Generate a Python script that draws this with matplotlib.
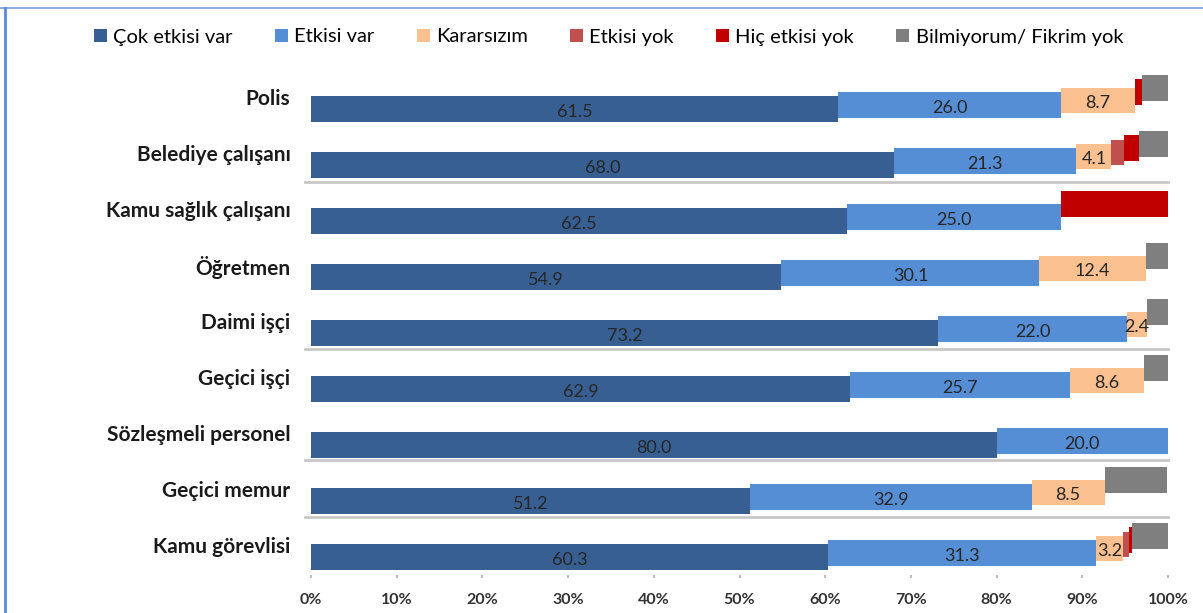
#!/usr/bin/env python3
"""Stacked horizontal bars: perceived effect by occupation group."""

import numpy as np
import matplotlib.pyplot as plt
from matplotlib.patches import Patch
from matplotlib.lines import Line2D

plt.rcParams["font.family"] = ["Lato", "DejaVu Sans"]

CATEGORIES = ["Polis", "Belediye çalışanı", "Kamu sağlık çalışanı", "Öğretmen",
              "Daimi işçi", "Geçici işçi", "Sözleşmeli personel",
              "Geçici memur", "Kamu görevlisi"]

SERIES = ["Çok etkisi var", "Etkisi var", "Kararsızım", "Etkisi yok",
          "Hiç etkisi yok", "Bilmiyorum/ Fikrim yok"]

cok_etkisi_var = [61.5, 68.0, 62.5, 54.9, 73.2, 62.9, 80.0, 51.2, 60.3]
etkisi_var     = [26.0, 21.3, 25.0, 30.1, 22.0, 25.7, 20.0, 32.9, 31.3]
kararsizim     = [8.7, 4.1, 0.0, 12.4, 2.4, 8.6, 0.0, 8.5, 3.2]
etkisi_yok     = [0.0, 1.5, 0.0, 0.0, 0.0, 0.0, 0.0, 0.0, 0.6]
hic_etkisi_yok = [0.8, 1.7, 12.5, 0.0, 0.0, 0.0, 0.0, 0.0, 0.4]
bilmiyorum     = [3.0, 3.4, 0.0, 2.6, 2.4, 2.8, 0.0, 7.3, 4.2]

COLORS = ["#375F92", "#558ED5", "#FAC090", "#C0504D", "#C00000", "#7F7F7F"]
LABELLED = [True, True, True, False, False, False]

data = [cok_etkisi_var, etkisi_var, kararsizim, etkisi_yok, hic_etkisi_yok, bilmiyorum]

W, H = 1203, 613
fig = plt.figure(figsize=(W / 100, H / 100), dpi=100)
ax = fig.add_axes([311 / W, 1 - 575 / H, (1168 - 311) / W, 500 / H])

rows = np.arange(len(CATEGORIES))
bar_h = 0.46
shift = 0.075   # pseudo-3D step between series
left = np.zeros(len(CATEGORIES))

for i, (vals, color) in enumerate(zip(data, COLORS)):
    vals = np.array(vals)
    y = rows - i * shift
    ax.barh(y, vals, left=left, height=bar_h, color=color, edgecolor="none", zorder=3 + i)
    if LABELLED[i]:
        for yy, l, v in zip(y, left, vals):
            if v > 0:
                ax.text(l + v / 2, yy + 0.05, f"{v:.1f}", ha="center", va="center",
                        fontsize=13, color="#262626", zorder=20)
    left += vals

# faint separator lines
for yy in [1.30, 4.29, 6.27, 7.29]:
    ax.plot([-0.7, 100], [yy, yy], color="#C8C8C8", lw=2, zorder=1, clip_on=False)

for r, name in zip(rows, CATEGORIES):
    ax.text(-2.4, r - 0.17, name, ha="right", va="center", fontsize=15,
            fontweight="bold", color="#1a1a1a")

ax.set_xlim(0, 100)
ax.set_ylim(8 + 18 / 56, -34 / 56)
ax.set_yticks([])
ax.set_xticks(np.arange(0, 101, 10))
ax.set_xticklabels([f"{t}%" for t in range(0, 101, 10)], fontsize=11.5,
                   fontweight="bold", color="#333333")
ax.tick_params(axis="x", length=2, width=1.5, color="#BFBFBF", pad=11)
for s in ax.spines.values():
    s.set_visible(False)

handles = [Patch(facecolor=c, edgecolor="none") for c in COLORS]
fig.legend(handles, SERIES, loc="center", bbox_to_anchor=(0.506, 1 - 37 / H), ncol=6,
           frameon=False, fontsize=14.5, handlelength=0.65, handleheight=0.65,
           handletextpad=0.3, columnspacing=2.1)

# outer frame lines
fig.add_artist(Line2D([0, 1], [1 - 8 / H, 1 - 8 / H], color="#8EB0DC", lw=1.5))
fig.add_artist(Line2D([4.5 / W, 4.5 / W], [0, 1 - 8 / H], color="#5B8BD0", lw=2))

fig.savefig("out.png", dpi=100)
